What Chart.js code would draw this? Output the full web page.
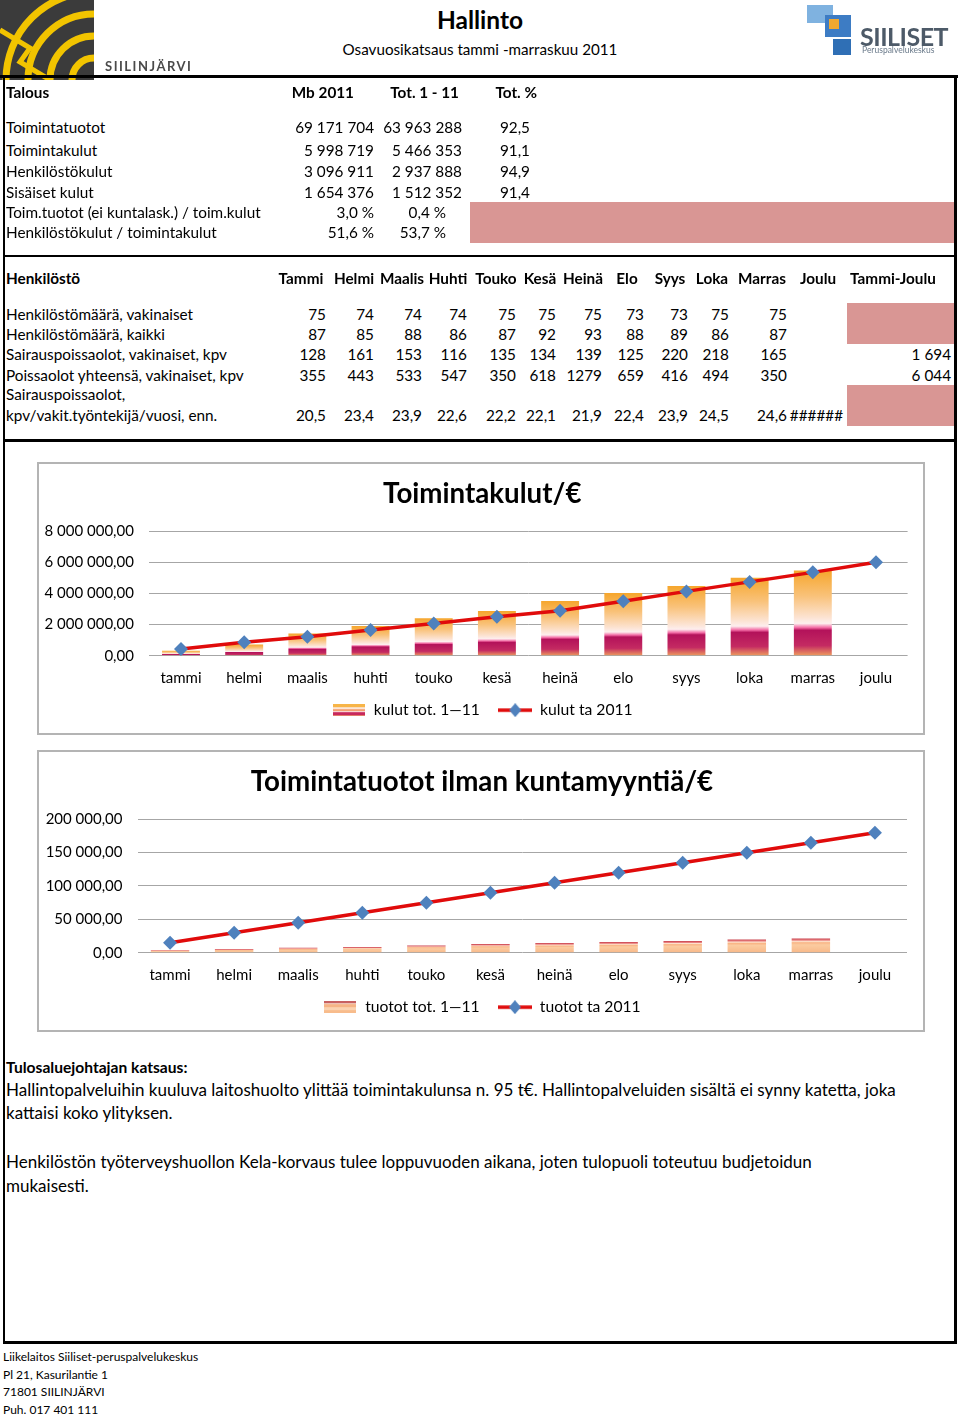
<!DOCTYPE html>
<html>
<head>
<meta charset="utf-8">
<title>Hallinto</title>
<script src="https://cdn.jsdelivr.net/npm/chart.js@4.4.0/dist/chart.umd.min.js"></script>
<style>
body{margin:0;background:#fff;font-family:Lato,sans-serif;color:#000}
#page{position:relative;width:960px;height:1416px;overflow:hidden}
.a{position:absolute;white-space:nowrap;line-height:20px;font-size:15.3px}
.b{font-weight:bold}
.ln{position:absolute;background:#000}
.pink{position:absolute;background:#D99694}
.box{position:absolute;border:2px solid #B4B4B4;box-sizing:border-box;background:#fff}
.box div{position:relative}
</style>
</head>
<body>
<div id="page">
  <canvas id="logoL" width="94" height="80" style="position:absolute;left:0;top:0"></canvas>
  <canvas id="logoR" width="60" height="56" style="position:absolute;top:3px;left:803px"></canvas>

  <div class="ln" style="left:0;top:75px;width:958px;height:3px"></div>
  <div class="ln" style="left:3px;top:76px;width:2px;height:1268px"></div>
  <div class="ln" style="left:954px;top:76px;width:3px;height:1268px"></div>
  <div class="ln" style="left:3px;top:255px;width:954px;height:2px"></div>
  <div class="ln" style="left:3px;top:439px;width:954px;height:3px"></div>
  <div class="ln" style="left:3px;top:1341px;width:954px;height:3px"></div>

  <div class="pink" style="left:470px;top:202px;width:484px;height:41px"></div>
  <div class="pink" style="left:847px;top:303px;width:107px;height:41px"></div>
  <div class="pink" style="left:847px;top:385px;width:107px;height:41px"></div>

  <div class="box" style="left:37px;top:462px;width:888px;height:273px">
    <div style="width:884px;height:269px"><canvas id="kulut"></canvas></div>
  </div>
  <div class="box" style="left:37px;top:750px;width:888px;height:282px">
    <div style="width:884px;height:278px"><canvas id="tuotot"></canvas></div>
  </div>
</div>

<script>
// kaavioiden data
const months = ['tammi', 'helmi', 'maalis', 'huhti', 'touko', 'kesä', 'heinä', 'elo', 'syys', 'loka', 'marras', 'joulu'];
const kulutTot = [330000, 720000, 1430000, 1910000, 2410000, 2870000, 3520000, 4020000, 4480000, 5000000, 5466353, null];
const kulutTa = [430000, 870000, 1220000, 1650000, 2070000, 2500000, 2890000, 3500000, 4130000, 4740000, 5350000, 5998719];
const tuototTot = [4000, 5500, 7500, 8500, 11000, 13000, 14500, 16000, 17500, 20000, 21500, null];
const tuototTa = [15000, 29900, 44800, 59800, 74700, 89700, 104600, 119600, 134500, 149500, 164400, 179400];

// taulukot
const talousRows = ['Toimintatuotot', 'Toimintakulut', 'Henkilöstökulut', 'Sisäiset kulut', 'Toim.tuotot (ei kuntalask.) / toim.kulut', 'Henkilöstökulut  / toimintakulut'];
const mb2011 = ['69 171 704', '5 998 719', '3 096 911', '1 654 376', '3,0 %', '51,6 %'];
const tot111 = ['63 963 288', '5 466 353', '2 937 888', '1 512 352', '0,4 %', '53,7 %'];
const totPct = ['92,5', '91,1', '94,9', '91,4', '', ''];

const hMonths = ['Tammi', 'Helmi', 'Maalis', 'Huhti', 'Touko', 'Kesä', 'Heinä', 'Elo', 'Syys', 'Loka', 'Marras', 'Joulu', 'Tammi-Joulu'];
const vakinaiset = [75, 74, 74, 74, 75, 75, 75, 73, 73, 75, 75];
const kaikki = [87, 85, 88, 86, 87, 92, 93, 88, 89, 86, 87];
const sairaus = [128, 161, 153, 116, 135, 134, 139, 125, 220, 218, 165];
const poissa = [355, 443, 533, 547, 350, 618, 1279, 659, 416, 494, 350];
const sairausPerHlo = ['20,5', '23,4', '23,9', '22,6', '22,2', '22,1', '21,9', '22,4', '23,9', '24,5', '24,6'];

const page = document.getElementById('page');
function txt(x, y, s, align, cls, size) {
    const d = document.createElement('div');
    d.className = 'a ' + (cls || '');
    d.textContent = s;
    if (size) d.style.fontSize = size + 'px';
    d.style.top = (y - 10) + 'px';
    if (align === 'r') {
        d.style.left = (x - 300) + 'px'; d.style.width = '300px'; d.style.textAlign = 'right';
    } else if (align === 'c') {
        d.style.left = (x - 300) + 'px'; d.style.width = '600px'; d.style.textAlign = 'center';
    } else {
        d.style.left = x + 'px';
    }
    page.appendChild(d);
    return d;
}

// otsikot
txt(480, 20, 'Hallinto', 'c', 'b', 24.5);
txt(480, 49, 'Osavuosikatsaus tammi -marraskuu 2011', 'c', '', 15.2);
const sj = txt(105, 66, 'SIILINJÄRVI', 'l', 'b', 13);
sj.style.letterSpacing = '1.5px'; sj.style.color = '#4a4a4a';
const sl = txt(860, 36, 'SIILISET', 'l', 'b', 25);
sl.style.color = '#4d5a68'; sl.style.letterSpacing = '-0.5px';
const pk = txt(862, 50, 'Peruspalvelukeskus', 'l', '', 8.5);
pk.style.color = '#6a7a8a';

// Talous
txt(6, 92, 'Talous', 'l', 'b');
txt(354, 92, 'Mb 2011', 'r', 'b');
txt(459, 92, 'Tot. 1 - 11', 'r', 'b');
txt(537, 92, 'Tot. %', 'r', 'b');
const talY = [127, 150, 171, 192, 212, 232];
talousRows.forEach((r, i) => {
    txt(6, talY[i], r);
    txt(374, talY[i], mb2011[i], 'r');
    txt(i < 4 ? 462 : 446, talY[i], tot111[i], 'r');
    txt(530, talY[i], totPct[i], 'r');
});

// Henkilöstö
txt(6, 278, 'Henkilöstö', 'l', 'b');
const hx = [301, 354, 402, 448, 496, 540, 583, 627, 670, 712, 762, 818, 893];
hMonths.forEach((m, i) => txt(hx[i], 278, m, 'c', 'b'));
const vx = [326, 374, 422, 467, 516, 556, 602, 644, 688, 729, 787];
function row(y, label, vals) {
    txt(6, y, label);
    vals.forEach((v, i) => txt(vx[i], y, String(v), 'r'));
}
row(314, 'Henkilöstömäärä, vakinaiset', vakinaiset);
row(334, 'Henkilöstömäärä, kaikki', kaikki);
row(354, 'Sairauspoissaolot, vakinaiset, kpv', sairaus);
txt(951, 354, '1 694', 'r');
row(375, 'Poissaolot yhteensä, vakinaiset, kpv', poissa);
txt(951, 375, '6 044', 'r');
txt(6, 394, 'Sairauspoissaolot,');
row(415, 'kpv/vakit.työntekijä/vuosi, enn.', sairausPerHlo);
txt(843, 415, '######', 'r');

// katsaus
txt(6, 1067, 'Tulosaluejohtajan katsaus:', 'l', 'b', 15.6);
txt(6, 1090, 'Hallintopalveluihin kuuluva laitoshuolto ylittää toimintakulunsa n. 95 t€. Hallintopalveluiden sisältä ei synny katetta, joka', 'l', '', 17);
txt(6, 1113, 'kattaisi koko ylityksen.', 'l', '', 17);
txt(6, 1162, 'Henkilöstön työterveyshuollon Kela-korvaus tulee loppuvuoden aikana, joten tulopuoli toteutuu budjetoidun', 'l', '', 17);
txt(6, 1186, 'mukaisesti.', 'l', '', 17);

['Liikelaitos Siiliset-peruspalvelukeskus', 'Pl 21, Kasurilantie 1', '71801 SIILINJÄRVI', 'Puh. 017 401 111']
    .forEach((s, i) => txt(3, [1357, 1375, 1392, 1410][i], s, 'l', '', 12));

// logot
(function () {
    const c = document.getElementById('logoL').getContext('2d');
    c.fillStyle = '#3b3b3b';
    c.fillRect(0, 0, 94, 80);
    c.strokeStyle = '#F2C400';
    c.lineWidth = 7;
    [22, 44, 66, 88].forEach(r => {
        c.beginPath();
        c.arc(94, 80, r, Math.PI, Math.PI * 1.5);
        c.stroke();
    });
    c.lineWidth = 5;
    c.beginPath();
    c.moveTo(0, 30); c.lineTo(30, 48); c.lineTo(20, 62); c.lineTo(50, 80);
    c.stroke();
    const r = document.getElementById('logoR').getContext('2d');
    r.fillStyle = '#7FB2E0';
    r.fillRect(4, 2, 26, 18);
    r.fillStyle = '#3D7CC4';
    r.fillRect(22, 12, 26, 22);
    r.fillStyle = '#F0A830';
    r.fillRect(26, 16, 10, 10);
    r.fillStyle = '#2F6FB5';
    r.fillRect(30, 36, 18, 16);
})();

// kaaviot
function fmt(v) {
    return String(Math.round(v)).replace(/\B(?=(\d{3})+(?!\d))/g, ' ') + ',00';
}

function barFill(stops) {
    return function (ctx) {
        const chart = ctx.chart;
        const y = chart.scales.y;
        if (!y || !chart.chartArea || ctx.raw == null) return stops[stops.length - 1][1];
        const top = y.getPixelForValue(ctx.raw);
        const bottom = y.getPixelForValue(0);
        if (Math.abs(bottom - top) < 1) return stops[stops.length - 1][1];
        const g = chart.ctx.createLinearGradient(0, bottom, 0, top);
        stops.forEach(s => g.addColorStop(s[0], s[1]));
        return g;
    };
}

function icon(w, h, draw) {
    const c = document.createElement('canvas');
    c.width = w; c.height = h;
    draw(c.getContext('2d'));
    return c;
}
const lineIcon = icon(34, 14, c => {
    c.strokeStyle = '#E00B0B'; c.lineWidth = 3.5;
    c.beginPath(); c.moveTo(0, 7); c.lineTo(34, 7); c.stroke();
    c.fillStyle = '#4F81BD';
    c.beginPath(); c.moveTo(17, 0); c.lineTo(23, 7); c.lineTo(17, 14); c.lineTo(11, 7); c.closePath(); c.fill();
});
const kulutIcon = icon(32, 12, c => {
    [['#F7B548', 0, 3], ['#FCE6D6', 3, 2], ['#F4A070', 5, 2], ['#FBE0E6', 7, 1], ['#C8285C', 8, 3], ['#E89070', 11, 1]]
        .forEach(s => { c.fillStyle = s[0]; c.fillRect(0, s[1], 32, s[2]); });
});
const tuototIcon = icon(32, 12, c => {
    [['#C86060', 0, 2], ['#F6D6C6', 2, 1], ['#F6B486', 3, 3], ['#FBD2B0', 6, 3], ['#F8BC8C', 9, 3]]
        .forEach(s => { c.fillStyle = s[0]; c.fillRect(0, s[1], 32, s[2]); });
});

// legendan kuvakkeet ja väli kohteiden välissä
function legendWith(icons) {
    return function (chart) {
        const items = Chart.defaults.plugins.legend.labels.generateLabels(chart);
        items.sort((a, b) => a.datasetIndex - b.datasetIndex);
        items.forEach(it => {
            it.pointStyle = icons[it.datasetIndex];
            it.lineWidth = 0;
            if (it.datasetIndex === 0) it.text += '\u2003 ';
        });
        return items;
    };
}

// otsikko ja legenda hieman oikealle, kuten Excelissä
const shiftBlocks = {
    id: 'shiftBlocks',
    afterLayout(chart) {
        if (chart.titleBlock) chart.titleBlock.left += 18;
        if (chart.legend) chart.legend.left += 18;
    }
};

Chart.defaults.font.family = 'Lato, sans-serif';
Chart.defaults.color = '#000';

function makeChart(id, title, barLabel, bars, lineLabel, line, stops, icons, yMax, yStep, yWidth, padRight) {
    return new Chart(document.getElementById(id), {
        data: {
            labels: months,
            datasets: [{
                type: 'bar',
                label: barLabel,
                data: bars,
                backgroundColor: barFill(stops),
                barPercentage: 0.6,
                categoryPercentage: 1,
                order: 2
            }, {
                type: 'line',
                label: lineLabel,
                data: line,
                borderColor: '#E00B0B',
                borderWidth: 3.5,
                pointStyle: 'rectRot',
                pointRadius: 7,
                pointBackgroundColor: '#4F81BD',
                pointBorderColor: '#4F81BD',
                pointBorderWidth: 0,
                tension: 0,
                order: 1
            }]
        },
        plugins: [shiftBlocks],
        options: {
            responsive: true,
            maintainAspectRatio: false,
            animation: false,
            layout: { padding: { left: 0, right: padRight, top: 0, bottom: 5 } },
            plugins: {
                title: {
                    display: true,
                    text: title,
                    color: '#000',
                    font: { size: 27.7, weight: 'bold' },
                    padding: { top: 13.4, bottom: 20.4 }
                },
                legend: {
                    position: 'bottom',
                    labels: {
                        usePointStyle: true,
                        pointStyleWidth: 34,
                        padding: 2.5,
                        font: { size: 15.7 },
                        color: '#000',
                        generateLabels: legendWith(icons)
                    }
                },
                tooltip: { enabled: false }
            },
            scales: {
                x: {
                    grid: { display: false, drawTicks: false },
                    border: { display: false },
                    ticks: { font: { size: 15 }, padding: 13, color: '#000' }
                },
                y: {
                    min: 0,
                    max: yMax,
                    ticks: {
                        stepSize: yStep,
                        font: { size: 15 },
                        padding: 15.5,
                        color: '#000',
                        callback: v => fmt(v)
                    },
                    grid: { color: '#A6A6A6', lineWidth: 1, drawTicks: false },
                    border: { display: false },
                    afterFit: s => { s.width = yWidth; }
                }
            }
        }
    });
}

makeChart('kulut', 'Toimintakulut/€', 'kulut tot. 1—11', kulutTot, 'kulut ta 2011', kulutTa,
    [[0, '#EE9E5E'], [0.12, '#C42A62'], [0.3, '#B3125A'], [0.33, '#F26AA4'], [0.38, '#FDEEEE'],
     [0.45, '#FCE3D2'], [0.7, '#F9C27A'], [1, '#F6A62C']],
    [kulutIcon, lineIcon], 8000000, 2000000, 110.4, 15.4);

makeChart('tuotot', 'Toimintatuotot ilman kuntamyyntiä/€', 'tuotot tot. 1—11', tuototTot, 'tuotot ta 2011', tuototTa,
    [[0, '#F8B888'], [0.55, '#FBCBA0'], [0.7, '#F9B585'], [0.8, '#FDE3D0'], [0.88, '#E88080'], [1, '#C8404C']],
    [tuototIcon, lineIcon], 200000, 50000, 99, 16);
</script>
</body>
</html>
